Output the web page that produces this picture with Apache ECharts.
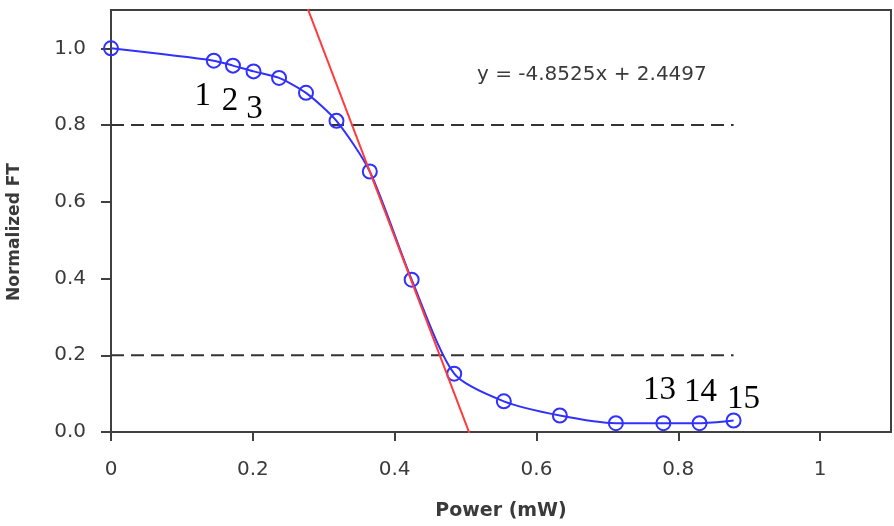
<!DOCTYPE html>
<html>
<head>
<meta charset="utf-8">
<style>
  html, body { margin: 0; padding: 0; background: #ffffff; }
  #chart { width: 894px; height: 526px; }
</style>
<script src="https://cdn.jsdelivr.net/npm/echarts@6/dist/echarts.min.js"></script>
</head>
<body>
<div id="chart"></div>
<script>
// Normalized FT versus laser power
const power  = [0, 0.145, 0.172, 0.201, 0.237, 0.275, 0.318, 0.365, 0.424, 0.484, 0.554, 0.633, 0.712, 0.779, 0.830, 0.878];
const normFT = [1.000, 0.968, 0.955, 0.940, 0.923, 0.884, 0.811, 0.679, 0.397, 0.152, 0.080, 0.043, 0.023, 0.023, 0.023, 0.030];

// measurement numbers shown next to their points (point i carries number i)
const shownNumbers = [1, 2, 3, 13, 14, 15];

// linear fit through the steep part of the curve
const fitSlope = -4.8525;
const fitIntercept = 2.4497;
const fitRange = [0.25, 0.52];

// reference levels
const levels = [0.8, 0.2];

const xTicks = [0, 0.2, 0.4, 0.6, 0.8, 1];
const yTicks = [0, 0.2, 0.4, 0.6, 0.8, 1.0];

const xTitle = 'Power (mW)';
const yTitle = 'Normalized FT';
const fitText = 'y = -4.8525x + 2.4497';

// label placement relative to each numbered point
const numberOffsets = { 1: [-11, 36], 2: [-3, 36], 3: [1, 38], 13: [-4, -33], 14: [1, -31], 15: [10, -21] };

const textColor = '#3a3a3a';
const uiFont = '"DejaVu Sans", Verdana, sans-serif';
const blue = '#3030ff';

const chart = echarts.init(document.getElementById('chart'), null, { renderer: 'canvas' });

const curveData = power.map((x, i) => {
  const item = { value: [x, normFT[i]] };
  if (shownNumbers.includes(i)) {
    item.label = {
      show: true,
      formatter: String(i),
      position: 'inside',
      offset: numberOffsets[i],
      fontFamily: '"Liberation Serif", "Times New Roman", serif',
      fontSize: 33,
      color: '#000000',
      align: 'center',
      verticalAlign: 'middle'
    };
  }
  return item;
});

const fitData = fitRange.map(x => [x, fitSlope * x + fitIntercept]);
const lastX = power[power.length - 1];

const levelSeries = levels.map(v => ({
  type: 'line',
  data: [[0, v], [lastX, v]],
  symbol: 'none',
  silent: true,
  lineStyle: { color: '#333333', width: 2, type: [13, 7] },
  z: 2
}));

chart.setOption({
  animation: false,
  backgroundColor: '#ffffff',
  grid: {
    left: 111, right: 3, top: 10, bottom: 93,
    show: true, borderColor: '#404040', borderWidth: 2
  },
  xAxis: {
    type: 'value',
    min: 0, max: 1.1, interval: 0.2,
    name: xTitle,
    nameLocation: 'middle',
    nameGap: 70,
    nameTextStyle: { fontFamily: uiFont, fontWeight: 'bold', fontSize: 19, color: textColor },
    axisLine: { show: true, onZero: false, lineStyle: { color: '#404040', width: 2 } },
    axisTick: { show: true, length: 9, lineStyle: { color: '#404040', width: 2 }, customValues: xTicks },
    axisLabel: {
      customValues: xTicks,
      margin: 28,
      fontFamily: uiFont, fontSize: 20, color: textColor,
      formatter: v => String(+v.toFixed(1))
    },
    splitLine: { show: false }
  },
  yAxis: {
    type: 'value',
    min: 0, max: 1.1, interval: 0.2,
    axisLine: { show: true, onZero: false, lineStyle: { color: '#404040', width: 2 } },
    axisTick: { show: true, length: 10, lineStyle: { color: '#404040', width: 2 }, customValues: yTicks },
    axisLabel: {
      customValues: yTicks,
      margin: 25,
      fontFamily: uiFont, fontSize: 20, color: textColor,
      formatter: v => v.toFixed(1)
    },
    splitLine: { show: false }
  },
  graphic: [
    {
      type: 'text',
      x: 15,
      y: 232,
      rotation: Math.PI / 2,
      style: {
        text: yTitle,
        fontFamily: uiFont,
        fontWeight: 'bold',
        fontSize: 17,
        fill: textColor,
        align: 'center',
        verticalAlign: 'middle'
      }
    },
    {
      type: 'text',
      x: 477,
      y: 75,
      style: {
        text: fitText,
        fontFamily: uiFont,
        fontSize: 20,
        fill: textColor,
        align: 'left',
        verticalAlign: 'middle'
      }
    }
  ],
  series: [
    ...levelSeries,
    {
      type: 'line',
      data: curveData,
      smooth: 0.25,
      symbol: 'circle',
      symbolSize: 14,
      itemStyle: { color: 'rgba(0,0,0,0)', borderColor: blue, borderWidth: 2 },
      lineStyle: { color: blue, width: 2 },
      z: 3
    },
    {
      type: 'line',
      data: fitData,
      symbol: 'none',
      clip: true,
      lineStyle: { color: '#ff3b3b', width: 2 },
      z: 4
    }
  ]
});
</script>
</body>
</html>
